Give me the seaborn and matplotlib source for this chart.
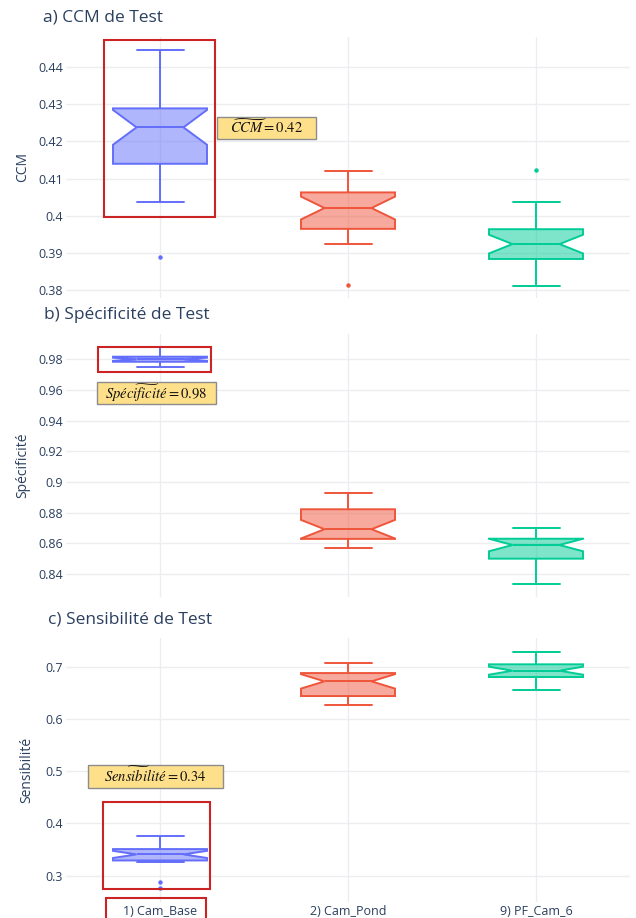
import matplotlib
matplotlib.use("Agg")
import matplotlib.pyplot as plt
from matplotlib.patches import Rectangle
from matplotlib.ticker import MultipleLocator, FuncFormatter
from matplotlib.colors import to_rgba
import numpy as np
import pandas as pd
import seaborn as sns

sns.set_style("white")
plt.rcParams['font.family'] = ['Open Sans', 'DejaVu Sans']

# modèles et couleurs
modeles = ["1) Cam_Base", "2) Cam_Pond", "9) PF_Cam_6"]
couleurs = ["#636efa", "#ef553b", "#00cc96"]

# CCM de test (25 répétitions par modèle)
ccm_base = [0.3890, 0.4038, 0.4075, 0.4098, 0.4112, 0.4131, 0.4140, 0.4158, 0.4172,
            0.4195, 0.4214, 0.4226, 0.4238, 0.4246, 0.4255, 0.4263, 0.4271, 0.4280,
            0.4289, 0.4305, 0.4331, 0.4358, 0.4384, 0.4412, 0.4446]
ccm_pond = [0.3813, 0.3925, 0.3938, 0.3946, 0.3953, 0.3960, 0.3965, 0.3974, 0.3983,
            0.3995, 0.4004, 0.4013, 0.4021, 0.4028, 0.4035, 0.4042, 0.4049, 0.4056,
            0.4063, 0.4072, 0.4081, 0.4090, 0.4099, 0.4110, 0.4120]
ccm_pf6 = [0.3811, 0.3832, 0.3850, 0.3862, 0.3871, 0.3878, 0.3884, 0.3891, 0.3898,
           0.3905, 0.3912, 0.3918, 0.3924, 0.3930, 0.3937, 0.3944, 0.3951, 0.3958,
           0.3964, 0.3975, 0.3988, 0.3999, 0.4012, 0.4036, 0.4123]

# Spécificité de test
spec_base = [0.9748, 0.9756, 0.9763, 0.9770, 0.9775, 0.9780, 0.9784, 0.9787, 0.9790,
             0.9793, 0.9796, 0.9798, 0.9800, 0.9802, 0.9805, 0.9808, 0.9811, 0.9814,
             0.9817, 0.9824, 0.9833, 0.9844, 0.9855, 0.9866, 0.9878]
spec_pond = [0.8571, 0.8584, 0.8596, 0.8607, 0.8615, 0.8622, 0.8629, 0.8638, 0.8648,
             0.8659, 0.8670, 0.8681, 0.8692, 0.8708, 0.8727, 0.8748, 0.8772, 0.8797,
             0.8822, 0.8838, 0.8855, 0.8871, 0.8889, 0.8906, 0.8926]
spec_pf6 = [0.8337, 0.8375, 0.8410, 0.8441, 0.8466, 0.8486, 0.8500, 0.8514, 0.8530,
            0.8547, 0.8562, 0.8576, 0.8589, 0.8596, 0.8602, 0.8609, 0.8616, 0.8623,
            0.8630, 0.8641, 0.8652, 0.8663, 0.8674, 0.8686, 0.8698]

# Sensibilité de test
sens_base = [0.2770, 0.2885, 0.3267, 0.3274, 0.3280, 0.3286, 0.3292, 0.3311, 0.3330,
             0.3352, 0.3371, 0.3390, 0.3408, 0.3417, 0.3426, 0.3444, 0.3466, 0.3489,
             0.3510, 0.3541, 0.3578, 0.3620, 0.3668, 0.3714, 0.3765]
sens_pond = [0.6261, 0.6298, 0.6331, 0.6363, 0.6392, 0.6417, 0.6439, 0.6478, 0.6521,
             0.6565, 0.6610, 0.6668, 0.6720, 0.6739, 0.6758, 0.6781, 0.6809, 0.6846,
             0.6879, 0.6908, 0.6937, 0.6966, 0.6995, 0.7031, 0.7065]
sens_pf6 = [0.6560, 0.6615, 0.6668, 0.6712, 0.6747, 0.6778, 0.6803, 0.6822, 0.6841,
            0.6862, 0.6884, 0.6905, 0.6924, 0.6943, 0.6961, 0.6982, 0.7004, 0.7025,
            0.7046, 0.7087, 0.7128, 0.7169, 0.7210, 0.7249, 0.7287]

TXT = '#2a3f5f'
GRID = '#ebedf0'
ROUGE = '#cc2424'
JAUNE = '#ffe08a'


def long_df(listes):
    return pd.DataFrame({
        'modele': np.repeat(modeles, [len(l) for l in listes]),
        'valeur': np.concatenate(listes),
    })


def panneau(ax, listes, whis, ylim, pas, ylabel, ylab_x, xlabels):
    df = long_df(listes)
    sns.boxplot(data=df, x='modele', y='valeur', hue='modele', order=modeles,
                hue_order=modeles, palette=couleurs, saturation=1, notch=True,
                width=0.5, whis=whis, linewidth=1.4, legend=False, ax=ax,
                flierprops=dict(marker='o', markersize=3.2, markeredgewidth=0))
    # couleurs façon plotly : trait plein, remplissage à 50 %
    for line in ax.lines:
        xd = np.asarray(line.get_xdata(), float)
        if xd.size == 0:
            continue
        c = couleurs[int(round(xd.mean()))]
        line.set_color(c)
        line.set_markerfacecolor(c)
        line.set_markeredgecolor(c)
    for p in ax.patches:
        v = p.get_path().vertices
        c = couleurs[int(round(v[:, 0].mean()))]
        p.set_facecolor(to_rgba(c, 0.5))
        p.set_edgecolor(c)
        p.set_linewidth(1.4)

    ax.set_xlim(-0.5, 2.5)
    ax.set_ylim(*ylim)
    ax.yaxis.set_major_locator(MultipleLocator(pas))
    ax.yaxis.set_major_formatter(FuncFormatter(lambda v, _: f'{v:.10g}'))
    ax.grid(True, color=GRID, linewidth=1)
    ax.set_axisbelow(True)
    sns.despine(ax=ax, left=True, bottom=True)
    ax.tick_params(length=0, labelsize=9, colors=TXT, pad=2)
    ax.set_xlabel('')
    ax.set_ylabel(ylabel, fontsize=10, color=TXT)
    ax.yaxis.set_label_coords(ylab_x, 0.5)
    if not xlabels:
        ax.tick_params(labelbottom=False)


def etiquette(ax, x0, x1, y0, y1, texte):
    ax.add_patch(Rectangle((x0, y0), x1 - x0, y1 - y0, facecolor=JAUNE,
                           edgecolor='#8c8c8c', linewidth=1, zorder=5, clip_on=False))
    ax.text((x0 + x1) / 2, (y0 + y1) / 2, texte, ha='center', va='center',
            fontsize=10.5, math_fontfamily='stix', color='#111111', zorder=6)


def cadre(ax, x0, x1, y0, y1):
    ax.add_patch(Rectangle((x0, y0), x1 - x0, y1 - y0, facecolor='none',
                           edgecolor=ROUGE, linewidth=1.5, zorder=7, clip_on=False))


W, H = 636, 918
fig = plt.figure(figsize=(W / 100, H / 100), dpi=100)


def axes_px(top, bottom, left=66, right=630):
    return fig.add_axes([left / W, 1 - bottom / H, (right - left) / W, (bottom - top) / H])


ax_a = axes_px(37, 298)
ax_b = axes_px(334, 597)
ax_c = axes_px(638, 902)

panneau(ax_a, [ccm_base, ccm_pond, ccm_pf6], 1.5, (0.3779, 0.4481), 0.01,
        'CCM', -0.064, False)
panneau(ax_b, [spec_base, spec_pond, spec_pf6], (0, 100), (0.825, 0.9965), 0.02,
        'Spécificité', -0.063, False)
panneau(ax_c, [sens_base, sens_pond, sens_pf6], 1.5, (0.2497, 0.755), 0.1,
        'Sensibilité', -0.057, True)

# titres
fig.text(43 / W, 1 - 18 / H, 'a) CCM de Test', fontsize=12.5, color=TXT, va='center')
fig.text(44 / W, 1 - 315 / H, 'b) Spécificité de Test', fontsize=12.5, color=TXT, va='center')
fig.text(48 / W, 1 - 620 / H, 'c) Sensibilité de Test', fontsize=12.5, color=TXT, va='center')

# annotations
cadre(ax_a, -0.30, 0.29, 0.3998, 0.4473)
etiquette(ax_a, 0.303, 0.828, 0.4206, 0.4267, r'$\widetilde{CCM} = 0.42$')

cadre(ax_b, -0.33, 0.27, 0.9717, 0.9883)
etiquette(ax_b, -0.337, 0.298, 0.9507, 0.9654, r'$Spéc\widetilde{ifici}té = 0.98$')

cadre(ax_c, -0.305, 0.266, 0.274, 0.441)
etiquette(ax_c, -0.383, 0.335, 0.4682, 0.5128, r'$Sen\widetilde{sibi}lité = 0.34$')

# cadre autour de l'étiquette du modèle de base
fig.add_artist(Rectangle((106 / W, -0.01), 100 / W, (20 / H) + 0.01, facecolor='none',
                         edgecolor=ROUGE, linewidth=1.5, transform=fig.transFigure))

fig.savefig('out.png', dpi=100)
